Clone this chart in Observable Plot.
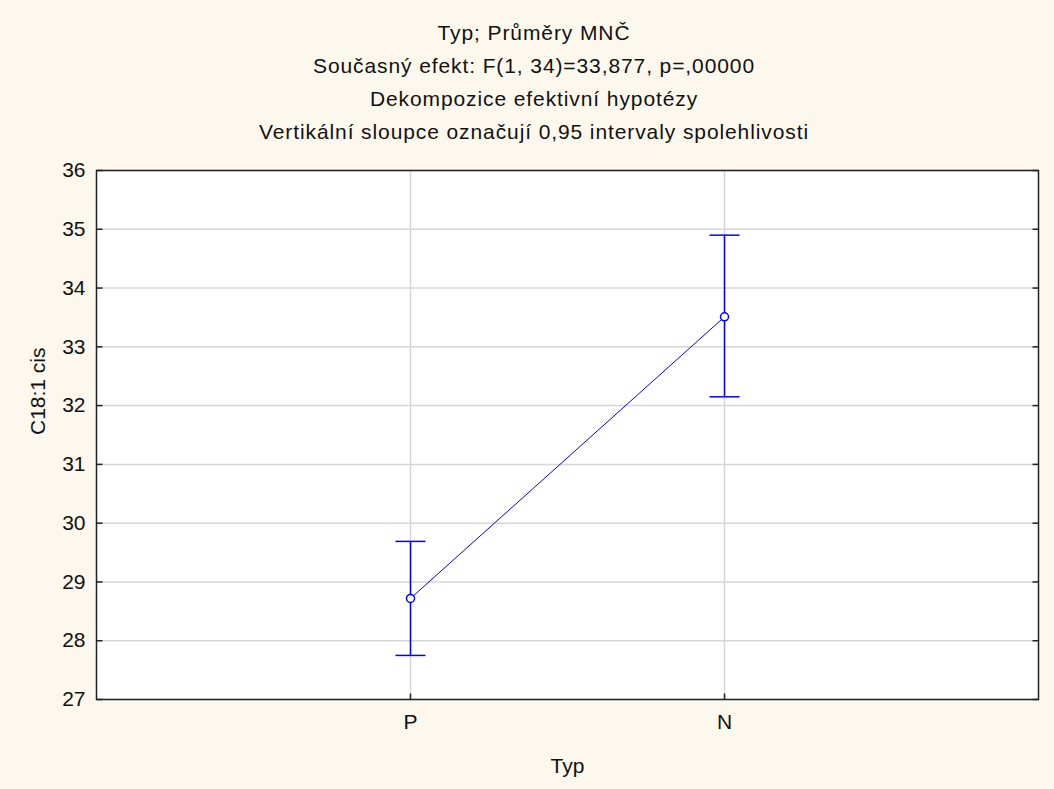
<!DOCTYPE html>
<html>
<head>
<meta charset="utf-8">
<script src="https://cdn.jsdelivr.net/npm/d3@7"></script>
<script src="https://cdn.jsdelivr.net/npm/@observablehq/plot@0.6"></script>
<style>
  html, body { margin: 0; padding: 0; background: #fdf8ee; }
  #wrap { position: relative; width: 1054px; height: 789px; background: #fdf8ee; font-family: "Liberation Sans", Arial, sans-serif; color: #111; }
  #titles { position: absolute; left: 0; top: 0; width: 1068px; text-align: center; }
  #titles div { height: 33px; line-height: 33px; font-size: 21px; letter-spacing: 0.9px; }
  #titles div:first-child { margin-top: 16px; }
  #chart { position: absolute; left: 0; top: 0; }
  #chart svg text { font-family: "Liberation Sans", Arial, sans-serif; }
</style>
</head>
<body>
<div id="wrap">
  <div id="chart"></div>
  <div id="titles"></div>
</div>
<script>
const titleLines = [
  "Typ; Průměry MNČ",
  "Současný efekt: F(1, 34)=33,877, p=,00000",
  "Dekompozice efektivní hypotézy",
  "Vertikální sloupce označují 0,95 intervaly spolehlivosti"
];
const categories = ["P", "N"];
const means = [28.72, 33.51];
const lower = [27.75, 32.15];
const upper = [29.69, 34.90];
const yTicks = [27, 28, 29, 30, 31, 32, 33, 34, 35, 36];
const xLabel = "Typ";
const yLabel = "C18:1 cis";

const data = categories.map((c, i) => ({typ: c, mean: means[i], lo: lower[i], hi: upper[i]}));

const titles = document.getElementById("titles");
for (const t of titleLines) {
  const d = document.createElement("div");
  d.textContent = t;
  titles.appendChild(d);
}

// symbol helpers (size = r*r*PI in Plot)
const half = size => Math.sqrt(size / Math.PI);
const capSymbol = {draw(ctx, size) { const w = half(size); ctx.moveTo(-w, 0); ctx.lineTo(w, 0); }};
const tickRight = {draw(ctx, size) { ctx.moveTo(0, 0); ctx.lineTo(half(size), 0); }};
const tickLeft = {draw(ctx, size) { ctx.moveTo(0, 0); ctx.lineTo(-half(size), 0); }};
const tickUp = {draw(ctx, size) { ctx.moveTo(0, 0); ctx.lineTo(0, -half(size)); }};

const blue = "#0000ff";
const chart = Plot.plot({
  width: 1054,
  height: 789,
  marginLeft: 96,
  marginRight: 16,
  marginTop: 170,
  marginBottom: 90,
  style: {background: "transparent", fontSize: "21px", color: "#111"},
  x: {type: "point", domain: categories, padding: 1},
  y: {domain: [27, 36]},
  marks: [
    Plot.frame({fill: "white"}),
    Plot.gridY(yTicks, {stroke: "#d6d6d6", strokeOpacity: 1, strokeWidth: 1.5}),
    Plot.gridX(categories, {stroke: "#d6d6d6", strokeOpacity: 1, strokeWidth: 1.5}),
    Plot.axisY(yTicks, {anchor: "left", tickSize: 0, tickPadding: 11, label: null, tickFormat: d => String(d)}),
    Plot.axisX(categories, {anchor: "bottom", tickSize: 0, tickPadding: 15, label: null}),
    Plot.dot(yTicks, {y: d => d, frameAnchor: "left", symbol: tickRight, r: 6, stroke: "#222", strokeWidth: 1.5}),
    Plot.dot(yTicks, {y: d => d, frameAnchor: "right", symbol: tickLeft, r: 6, stroke: "#222", strokeWidth: 1.5}),
    Plot.dot(categories, {x: d => d, frameAnchor: "bottom", symbol: tickUp, r: 6, stroke: "#222", strokeWidth: 1.5}),
    Plot.ruleX(data, {x: "typ", y1: "lo", y2: "hi", stroke: blue, strokeWidth: 1.5}),
    Plot.dot(data, {x: "typ", y: "lo", symbol: capSymbol, r: 15, stroke: blue, strokeWidth: 1.5}),
    Plot.dot(data, {x: "typ", y: "hi", symbol: capSymbol, r: 15, stroke: blue, strokeWidth: 1.5}),
    Plot.line(data, {x: "typ", y: "mean", stroke: blue, strokeWidth: 1}),
    Plot.dot(data, {x: "typ", y: "mean", r: 4, stroke: blue, fill: "white", strokeWidth: 1.5}),
    Plot.frame({stroke: "#222", strokeWidth: 1.5}),
    Plot.text([xLabel], {frameAnchor: "bottom", dy: 73, fontSize: 21, fill: "#111"}),
    Plot.text([yLabel], {frameAnchor: "left", dx: -58, rotate: -90, fontSize: 21, fill: "#111"})
  ]
});
document.getElementById("chart").appendChild(chart);
</script>
</body>
</html>
